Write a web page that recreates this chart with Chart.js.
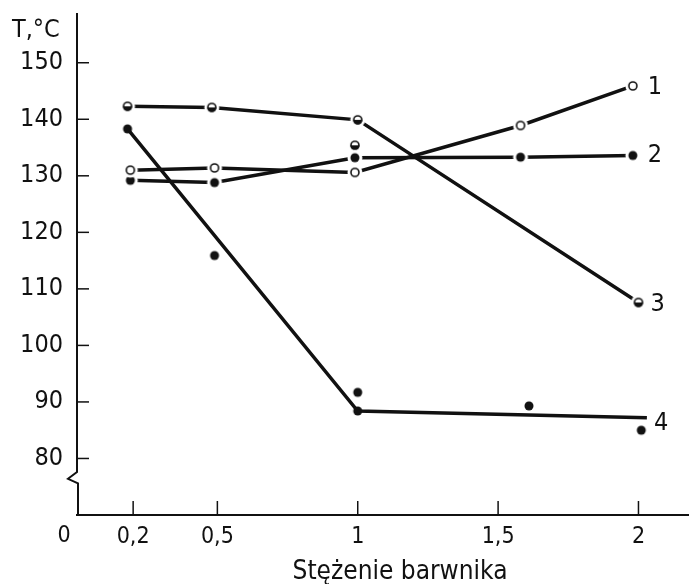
<!DOCTYPE html>
<html lang="pl">
<head>
<meta charset="UTF-8">
<title>Temperatura a stężenie barwnika</title>
<script src="https://cdn.jsdelivr.net/npm/chart.js@4.4.0/dist/chart.umd.min.js"></script>
<style>
  html, body { margin: 0; padding: 0; background: #fff; }
  #wrap { width: 689px; height: 584px; }
</style>
</head>
<body>
<div id="wrap"><canvas id="chart" width="689" height="584"></canvas></div>
<script>
// concentration of dye (x) and temperature T, °C (y)
const conc1 = [0.19, 0.49, 0.99, 1.58, 1.98];
const temp1 = [131.0, 131.4, 130.6, 138.9, 145.9];

const conc2 = [0.19, 0.49, 0.99, 1.58, 1.98];
const temp2 = [129.2, 128.8, 133.2, 133.3, 133.6];

const conc3 = [0.18, 0.48, 1.0, 2.0];
const temp3 = [142.3, 142.1, 139.9, 107.6];
const conc3extra = [0.99];
const temp3extra = [135.4];

const conc4 = [0.18, 0.49, 1.0, 1.0, 1.61, 2.01];
const temp4 = [138.3, 115.9, 91.7, 88.4, 89.3, 85.0];
// curve 4 is drawn as a fitted line, not through every point
const conc4line = [0.18, 1.0, 2.03];
const temp4line = [138.3, 88.4, 87.2];

const xTicks = [0, 0.2, 0.5, 1, 1.5, 2];
const yTicks = [80, 90, 100, 110, 120, 130, 140, 150];
const curveNames = ['1', '2', '3', '4'];

const FONT = "'Liberation Sans Narrow', 'DejaVu Sans Condensed', 'Roboto Condensed', 'Liberation Sans', sans-serif";
const INK = '#111';

function pts(xs, ys) {
    return xs.map((x, i) => ({ x: x, y: ys[i] }));
}

// markers with a small white halo, like the gaps in the original drawing
function makeMarker(kind) {
    const c = document.createElement('canvas');
    c.width = 18; c.height = 18;
    const g = c.getContext('2d');
    const cx = 9, cy = 9, r = 4.5;
    g.fillStyle = '#fff';
    g.beginPath(); g.arc(cx, cy, 7.5, 0, Math.PI * 2); g.fill();
    if (kind === 'open') {
        g.beginPath(); g.arc(cx, cy, r - 0.5, 0, Math.PI * 2);
        g.fillStyle = '#fff'; g.fill();
        g.lineWidth = 1.6; g.strokeStyle = INK; g.stroke();
    } else if (kind === 'half') {
        g.beginPath(); g.arc(cx, cy, r, 0, Math.PI);
        g.fillStyle = INK; g.fill();
        g.beginPath(); g.arc(cx, cy, r - 0.5, 0, Math.PI * 2);
        g.lineWidth = 1.6; g.strokeStyle = INK; g.stroke();
    } else {
        g.beginPath(); g.arc(cx, cy, r, 0, Math.PI * 2);
        g.fillStyle = INK; g.fill();
    }
    return c;
}

const openDot = makeMarker('open');
const halfDot = makeMarker('half');
const fullDot = makeMarker('full');

function fmt(v) {
    return String(v).replace('.', ',');
}

function noPad(s) {
    s.paddingLeft = 0; s.paddingRight = 0;
    s.paddingTop = 0; s.paddingBottom = 0;
}

// y axis with the break near the bottom, inner tick marks, loose labels
const decorPlugin = {
    id: 'decor',
    afterDraw(chart) {
        const ctx = chart.ctx;
        const a = chart.chartArea;
        const xs = chart.scales.x, ys = chart.scales.y;
        ctx.save();
        ctx.strokeStyle = INK;
        ctx.lineCap = 'butt';

        // y axis with zigzag break
        const ax = a.left;
        ctx.lineWidth = 2;
        ctx.beginPath();
        ctx.moveTo(ax, a.top);
        ctx.lineTo(ax, ys.getPixelForValue(77.6));
        ctx.lineTo(ax - 9, ys.getPixelForValue(76.4));
        ctx.lineTo(ax + 1, ys.getPixelForValue(75.6));
        ctx.lineTo(ax + 1, a.bottom);
        ctx.stroke();

        // tick marks pointing into the plot
        ctx.lineWidth = 1.5;
        yTicks.forEach(v => {
            const y = ys.getPixelForValue(v);
            ctx.beginPath(); ctx.moveTo(ax, y); ctx.lineTo(ax + 12, y); ctx.stroke();
        });
        xTicks.forEach(v => {
            if (v === 0) return;
            const x = xs.getPixelForValue(v);
            ctx.beginPath(); ctx.moveTo(x, a.bottom); ctx.lineTo(x, a.bottom - 14); ctx.stroke();
        });

        ctx.fillStyle = INK;
        // unit label at the top of the y axis
        ctx.font = '25px ' + FONT;
        ctx.textAlign = 'left';
        ctx.textBaseline = 'alphabetic';
        ctx.fillText('T,°C', 12, 37);

        // the "0" sits left of the axis corner
        ctx.font = '23px ' + FONT;
        ctx.textAlign = 'center';
        ctx.textBaseline = 'middle';
        ctx.fillText('0', xs.getPixelForValue(0) - 13, 536);

        // x axis title
        ctx.font = '26px ' + FONT;
        ctx.textBaseline = 'alphabetic';
        ctx.fillText('Stężenie barwnika', 400, 579);

        // curve numbers next to the last point of each curve
        ctx.font = '25px ' + FONT;
        ctx.textAlign = 'left';
        ctx.textBaseline = 'middle';
        const ends = [
            { ds: 0, dx: 15, dy: 2 },
            { ds: 1, dx: 15, dy: 0 },
            { ds: 2, dx: 12, dy: 2 },
            { ds: 4, dx: 7, dy: 6 }
        ];
        ends.forEach((e, i) => {
            const els = chart.getDatasetMeta(e.ds).data;
            const p = els[els.length - 1];
            ctx.fillText(curveNames[i], p.x + e.dx, p.y + e.dy);
        });
        ctx.restore();
    }
};

Chart.defaults.font.family = FONT;
Chart.defaults.color = INK;

const lineBase = {
    showLine: true,
    borderColor: INK,
    borderWidth: 3.5,
    pointRadius: 5,
    pointHoverRadius: 5,
    tension: 0
};

new Chart(document.getElementById('chart'), {
    type: 'scatter',
    data: {
        datasets: [
            Object.assign({}, lineBase, { label: '1', data: pts(conc1, temp1), pointStyle: openDot }),
            Object.assign({}, lineBase, { label: '2', data: pts(conc2, temp2), pointStyle: fullDot }),
            Object.assign({}, lineBase, { label: '3', data: pts(conc3, temp3), pointStyle: halfDot }),
            { label: '3 (extra)', data: pts(conc3extra, temp3extra), pointStyle: halfDot, pointRadius: 5, showLine: false },
            Object.assign({}, lineBase, { label: '4 (line)', data: pts(conc4line, temp4line), pointRadius: 0 }),
            { label: '4', data: pts(conc4, temp4), pointStyle: fullDot, pointRadius: 5, showLine: false }
        ]
    },
    options: {
        responsive: false,
        animation: false,
        devicePixelRatio: 1,
        layout: { autoPadding: false, padding: { top: 13, right: 0, left: 0, bottom: 0 } },
        plugins: {
            legend: { display: false },
            tooltip: { enabled: false }
        },
        scales: {
            x: {
                type: 'linear',
                min: 0,
                max: 2.18,
                afterBuildTicks: s => { s.ticks = xTicks.map(v => ({ value: v })); },
                afterFit: s => { s.height = 69; noPad(s); },
                grid: { display: false, drawTicks: false },
                border: { display: true, color: INK, width: 2 },
                ticks: {
                    font: { size: 23 },
                    padding: 8,
                    maxRotation: 0,
                    autoSkip: false,
                    callback: v => (v === 0 ? '' : fmt(v))
                }
            },
            y: {
                type: 'linear',
                min: 70,
                max: 158.8,
                afterBuildTicks: s => { s.ticks = yTicks.map(v => ({ value: v })); },
                afterFit: s => { s.width = 77; noPad(s); },
                grid: { display: false, drawTicks: false },
                border: { display: false },
                ticks: {
                    font: { size: 25 },
                    padding: 14,
                    callback: v => String(v)
                }
            }
        }
    },
    plugins: [decorPlugin]
});
</script>
</body>
</html>
